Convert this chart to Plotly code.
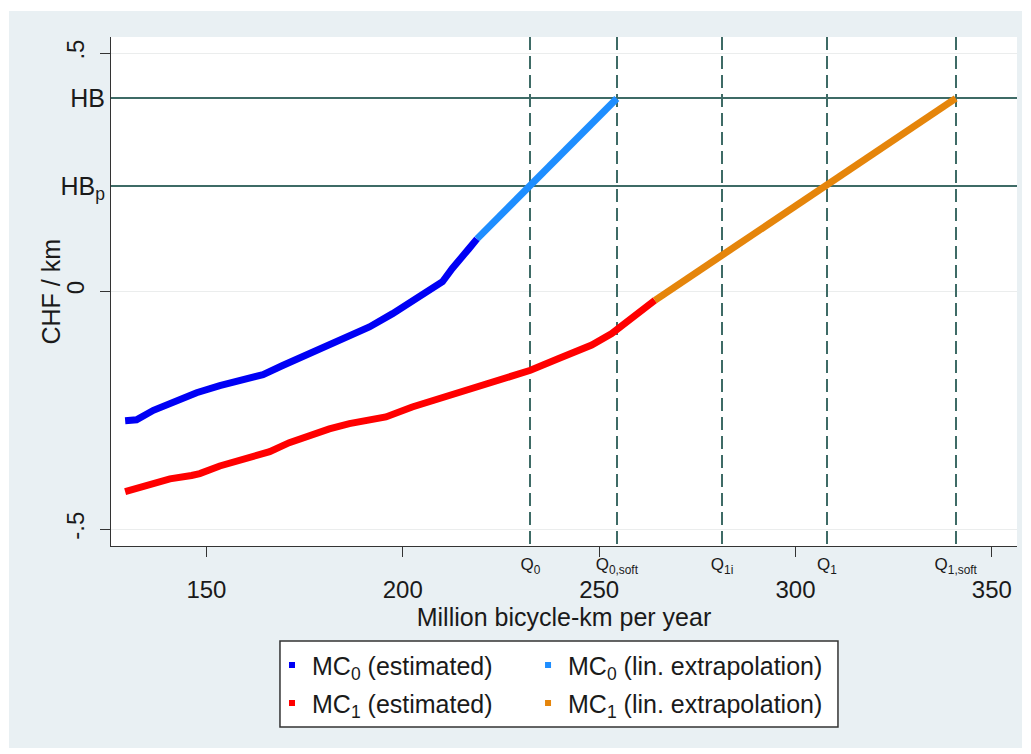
import plotly.graph_objects as go

# ---------------- data ----------------
x_ticks = [150, 200, 250, 300, 350]
y_ticks = [-0.5, 0, 0.5]
y_ticktext = ["-.5", "0", ".5"]

q_vals = [232.5, 254.5, 281.3, 308.0, 340.8]
q_labels = ["Q<sub>0</sub>", "Q<sub>0,soft</sub>", "Q<sub>1i</sub>", "Q<sub>1</sub>", "Q<sub>1,soft</sub>"]

hb_vals = [0.405, 0.221]
hb_labels = ["HB", "HB<sub>p</sub>"]

mc0_est_x = [129.3, 132.2, 136.5, 142.4, 147.5, 153.4, 159.3, 164.4, 169.4, 176.2,
             183.0, 191.5, 197.4, 202.4, 207.9, 210.1, 212.6, 215.1, 216.8, 218.9]
mc0_est_y = [-0.272, -0.270, -0.250, -0.231, -0.213, -0.198, -0.186, -0.175, -0.156, -0.131,
             -0.103, -0.075, -0.047, -0.019, 0.009, 0.020, 0.048, 0.076, 0.089, 0.110]

mc0_lin_x = [218.9, 254.5]
mc0_lin_y = [0.110, 0.405]

mc1_est_x = [129.3, 133.9, 140.7, 146.2, 148.3, 153.4, 159.3, 166.1, 171.1, 176.2,
             181.3, 186.4, 191.4, 195.7, 202.4, 210.9, 219.4, 225.3, 232.5, 239.7,
             248.1, 253.2, 258.3, 264.2]
mc1_est_y = [-0.421, -0.409, -0.394, -0.387, -0.383, -0.367, -0.352, -0.337, -0.318, -0.303,
             -0.289, -0.278, -0.270, -0.264, -0.243, -0.222, -0.198, -0.187, -0.166, -0.141,
             -0.113, -0.089, -0.057, -0.019]

mc1_lin_x = [264.2, 340.8]
mc1_lin_y = [-0.019, 0.405]

series_names = ["MC<sub>0</sub> (estimated)", "MC<sub>0</sub> (lin. extrapolation)",
                "MC<sub>1</sub> (estimated)", "MC<sub>1</sub> (lin. extrapolation)"]
series_colors = ["#0000F5", "#1E8EFF", "#FF0000", "#E5850B"]

# ---------------- style ----------------
FONT = "Liberation Sans, Arial, sans-serif"
TXT = "#1a1a1a"
REF = "#3E6B66"
AX = "#333333"
BG = "#E9F0F3"
xr = [125.7, 356.4]
yr = [-0.535, 0.534]

fig = go.Figure()

series = [(mc0_est_x, mc0_est_y), (mc0_lin_x, mc0_lin_y),
          (mc1_est_x, mc1_est_y), (mc1_lin_x, mc1_lin_y)]
for (xs, ys), name, col in zip(series, series_names, series_colors):
    fig.add_trace(go.Scatter(x=xs, y=ys, mode="lines", name=name, showlegend=False,
                             line=dict(color=col, width=7), hoverinfo="skip"))

# legend-only entries (small square markers); also attach the overlay axes
legend_ids = ["legend", "legend3", "legend2", "legend4"]
xaxes_ = ["x2", "x", "x2", "x"]
yaxes_ = ["y", "y2", "y", "y2"]
for name, col, lid, xa, ya in zip(series_names, series_colors, legend_ids, xaxes_, yaxes_):
    fig.add_trace(go.Scatter(x=[None], y=[None], mode="markers", name=name, legend=lid,
                             xaxis=xa, yaxis=ya, hoverinfo="skip",
                             marker=dict(symbol="square", size=6, color=col)))

leg_common = dict(xanchor="left", yanchor="top", bgcolor="rgba(0,0,0,0)", borderwidth=0,
                  font=dict(family=FONT, size=25, color=TXT))
colx = [0.1777, 0.4603]
rowy = [-0.1890, -0.2636]

fig.update_layout(
    width=1031, height=754,
    margin=dict(l=111, r=14, t=37, b=208, autoexpand=False),
    paper_bgcolor="white", plot_bgcolor="white",
    font=dict(family=FONT, color=TXT),
    xaxis=dict(range=xr, tickvals=x_ticks, ticks="outside", ticklen=10, tickwidth=1.3,
               tickcolor=AX, showline=True, linecolor=AX, linewidth=1.3, showgrid=False,
               zeroline=False, tickfont=dict(size=24, color=TXT), ticklabelstandoff=12,
               title=dict(text="Million bicycle-km per year", font=dict(size=25, color=TXT), standoff=0)),
    xaxis2=dict(overlaying="x", anchor="y", side="bottom", range=xr, tickvals=q_vals,
                ticktext=q_labels, ticks="", showgrid=True, gridcolor=REF, gridwidth=2,
                griddash="13px,6px", showline=False, zeroline=False,
                tickfont=dict(size=17, color=TXT), ticklabelstandoff=6),
    yaxis=dict(range=yr, tickvals=y_ticks, ticktext=y_ticktext, tickangle=-90,
               ticks="outside", ticklen=10, tickwidth=1.3, tickcolor=AX, showline=True,
               linecolor=AX, linewidth=1.3, showgrid=True, gridcolor="#EBEDED", gridwidth=1,
               zeroline=False, tickfont=dict(size=24, color=TXT), ticklabelstandoff=6),
    yaxis2=dict(overlaying="y", anchor="x", side="left", range=yr, tickvals=hb_vals,
                ticktext=hb_labels, ticks="", tickangle=0, showgrid=True, gridcolor=REF,
                gridwidth=2, showline=False, zeroline=False, ticklabelstandoff=5,
                tickfont=dict(size=25, color=TXT)),
    annotations=[dict(text="CHF / km", xref="paper", yref="paper", x=-0.0673, y=0.5,
                      xanchor="center", yanchor="middle", textangle=-90, showarrow=False,
                      font=dict(size=25, color=TXT, family=FONT))],
    legend=dict(x=colx[0], y=rowy[0], **leg_common),
    legend2=dict(x=colx[0], y=rowy[1], **leg_common),
    legend3=dict(x=colx[1], y=rowy[0], **leg_common),
    legend4=dict(x=colx[1], y=rowy[1], **leg_common),
    shapes=[
        dict(type="rect", xref="paper", yref="paper", x0=-0.1126, x1=1.0055, y0=-0.3969, y1=1.0511,
             fillcolor=BG, line=dict(width=0), layer="below"),
        dict(type="rect", xref="paper", yref="paper", x0=0, x1=1, y0=0, y1=1,
             fillcolor="white", line=dict(width=0), layer="below"),
        dict(type="rect", xref="paper", yref="paper", x0=0.1865, x1=0.8024, y0=-0.3556, y1=-0.1866,
             fillcolor="white", line=dict(color=AX, width=1.5), layer="below"),
    ],
)

fig.write_html("out.html")
